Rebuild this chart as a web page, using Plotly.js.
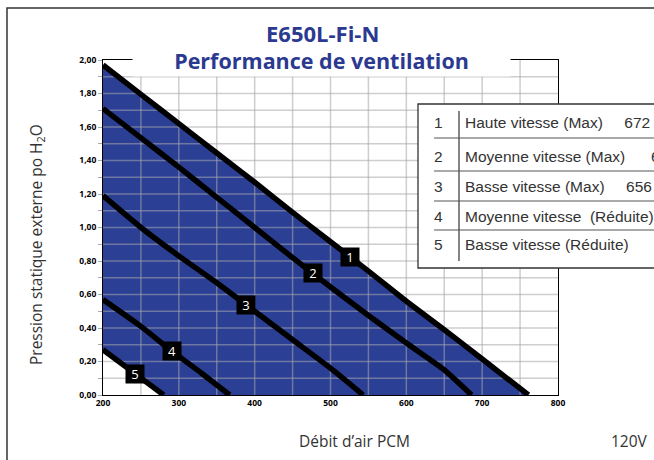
<!DOCTYPE html>
<html><head><meta charset="utf-8">
<script src="https://cdn.plot.ly/plotly-3.0.1.min.js"></script>
<style>html,body{margin:0;padding:0;background:#fff;} #chart{width:654px;height:460px;}</style>
</head><body><div id="chart"></div>
<script>
// Débit d'air (PCM) vs pression statique (po H2O)
const curve1X = [200, 250, 300, 350, 400, 450, 500, 550, 600, 650, 700, 761];
const curve1Y = [1.97, 1.795, 1.62, 1.445, 1.27, 1.09, 0.915, 0.74, 0.56, 0.39, 0.215, 0];
const curve2X = [200, 250, 300, 350, 400, 450, 500, 550, 600, 650, 686];
const curve2Y = [1.71, 1.535, 1.36, 1.18, 1.0, 0.82, 0.645, 0.475, 0.31, 0.15, 0];
const curve3X = [200, 250, 300, 350, 400, 450, 500, 543];
const curve3Y = [1.19, 1.00, 0.83, 0.67, 0.50, 0.33, 0.16, 0];
const curve4X = [200, 250, 290, 330, 367];
const curve4Y = [0.57, 0.41, 0.265, 0.13, 0];
const curve5X = [200, 240, 280];
const curve5Y = [0.27, 0.135, 0];
const curveLabels = ['1', '2', '3', '4', '5'];
const labelX = [526, 477, 389, 291, 242];
const legendNumbers = ['1', '2', '3', '4', '5'];
const NB = '\u00a0';
const legendTexts = [
  'Haute vitesse (Max)' + NB.repeat(5) + '672 PCM',
  'Moyenne vitesse (Max)' + NB.repeat(6) + '664 PCM',
  'Basse vitesse (Max)' + NB.repeat(5) + '656 PCM',
  'Moyenne vitesse' + NB.repeat(2) + '(Réduite)',
  'Basse vitesse (Réduite)'
];
const titleLine1 = 'E650L-Fi-N';
const titleLine2 = 'Performance de ventilation';
const xTitle = 'Débit d\u2019air PCM';
const yTitle = 'Pression statique externe po H<sub>2</sub>O';
const voltage = '120V';
const xRange = [200, 800];
const yRange = [0, 2];
const xGridStep = 50;
const yGridStep = 0.1;

const curvesX = [curve1X, curve2X, curve3X, curve4X, curve5X];
const curvesY = [curve1Y, curve2Y, curve3Y, curve4Y, curve5Y];

function interp(xs, ys, x) {
  for (let i = 0; i < xs.length - 1; i++) {
    if (x >= xs[i] && x <= xs[i + 1]) {
      const t = (x - xs[i]) / (xs[i + 1] - xs[i]);
      return ys[i] + t * (ys[i + 1] - ys[i]);
    }
  }
  return ys[ys.length - 1];
}

const BLUE = '#2b3f95';
const GRID = 'rgba(165,165,172,0.55)';

const traces = [];
curvesX.forEach((cx, i) => {
  traces.push({
    type: 'scatter', mode: 'lines',
    x: cx, y: curvesY[i], name: curveLabels[i],
    line: {color: '#000', width: 5.5, shape: 'spline', smoothing: 0.5},
    showlegend: false, hoverinfo: 'skip'
  });
});

const shapes = [];
// blue zone between curve 1 and curve 5 (data coords), below traces
const zoneX = curve1X.concat(curve5X.slice().reverse());
const zoneY = curve1Y.concat(curve5Y.slice().reverse());
const zonePath = zoneX.map((x, i) => (i === 0 ? 'M' : 'L') + x + ',' + zoneY[i]).join(' ') + ' Z';
shapes.push({type: 'path', xref: 'x', yref: 'y', path: zonePath, fillcolor: BLUE,
  line: {width: 0}, layer: 'below'});
// gridlines drawn over the zone but below the curves
const nX = Math.round((xRange[1] - xRange[0]) / xGridStep);
for (let k = 1; k < nX; k++) {
  const v = xRange[0] + k * xGridStep;
  shapes.push({type: 'line', xref: 'x', yref: 'y', x0: v, x1: v, y0: yRange[0], y1: yRange[1],
    line: {color: GRID, width: 1.5}, layer: 'below'});
}
const nY = Math.round((yRange[1] - yRange[0]) / yGridStep);
for (let k = 1; k < nY; k++) {
  const v = +(yRange[0] + k * yGridStep).toFixed(2);
  shapes.push({type: 'line', xref: 'x', yref: 'y', x0: xRange[0], x1: xRange[1], y0: v, y1: v,
    line: {color: GRID, width: 1.5}, layer: 'below'});
}
// outer frame
shapes.push({type: 'rect', xref: 'paper', yref: 'paper', x0: -0.211, x1: 1.6, y0: -0.6, y1: 1.155,
  line: {color: '#333', width: 1.5}, fillcolor: 'rgba(0,0,0,0)', layer: 'below'});
// legend box
shapes.push({type: 'rect', xref: 'paper', yref: 'paper', x0: 0.6923, x1: 1.6, y0: 0.3791, y1: 0.8687,
  line: {color: '#333', width: 1.3}, fillcolor: '#ffffff', layer: 'above'});
shapes.push({type: 'line', xref: 'paper', yref: 'paper', x0: 0.7824, x1: 0.7824, y0: 0.40, y1: 0.8478,
  line: {color: '#333', width: 1.2}, layer: 'above'});
[0.7672, 0.6687, 0.5791, 0.4925].forEach(yy => {
  shapes.push({type: 'line', xref: 'paper', yref: 'paper', x0: 0.7275, x1: 1.6, y0: yy, y1: yy,
    line: {color: '#555', width: 1.2}, layer: 'above'});
});

const annotations = [];
// title line 2 on white box (interrupts top frame)
annotations.push({
  xref: 'paper', yref: 'paper', x: 0.48, y: 0.997, xanchor: 'center', yanchor: 'middle',
  text: titleLine2, showarrow: false, bgcolor: '#ffffff', width: 377, height: 30, borderpad: 0,
  valign: 'top',
  font: {family: 'Open Sans', size: 21.5, color: '#2b3990', weight: 700}
});
annotations.push({
  xref: 'paper', yref: 'paper', x: 0.4835, y: 1.0806, xanchor: 'center', yanchor: 'middle',
  text: titleLine1, showarrow: false,
  font: {family: 'Open Sans', size: 22, color: '#2b3990', weight: 700}
});
// axis titles
annotations.push({
  xref: 'paper', yref: 'paper', x: 0.5538, y: -0.137, xanchor: 'center', yanchor: 'middle',
  text: xTitle, showarrow: false, font: {family: 'Open Sans', size: 15.5, color: '#333'}
});
annotations.push({
  xref: 'paper', yref: 'paper', x: -0.145, y: 0.4478, xanchor: 'center', yanchor: 'middle',
  text: yTitle, textangle: -90, showarrow: false, font: {family: 'Open Sans', size: 15.5, color: '#333'}
});
annotations.push({
  xref: 'paper', yref: 'paper', x: 1.158, y: -0.137, xanchor: 'center', yanchor: 'middle',
  text: voltage, showarrow: false, font: {family: 'Open Sans', size: 15.5, color: '#333'}
});
// curve labels
curvesX.forEach((cx, i) => {
  annotations.push({
    xref: 'x', yref: 'y', x: labelX[i], y: interp(cx, curvesY[i], labelX[i]),
    xanchor: 'center', yanchor: 'middle', text: curveLabels[i], showarrow: false,
    bgcolor: '#000', width: 17, height: 17, borderpad: 0.5,
    font: {family: 'Open Sans', size: 13, color: '#fff'}
  });
});
// legend table text
const rowY = [0.8149, 0.7134, 0.6209, 0.5343, 0.4478];
legendNumbers.forEach((n, i) => {
  annotations.push({
    xref: 'paper', yref: 'paper', x: 0.7363, y: rowY[i], xanchor: 'center', yanchor: 'middle',
    text: n, showarrow: false, font: {family: 'Liberation Sans', size: 15.5, color: '#333'}
  });
  annotations.push({
    xref: 'paper', yref: 'paper', x: 0.7912, y: rowY[i], xanchor: 'left', yanchor: 'middle',
    text: legendTexts[i], showarrow: false, font: {family: 'Liberation Sans', size: 15.5, color: '#333'}
  });
});

const tickFont = {family: 'Open Sans', size: 8.5, color: '#000', weight: 700};
const layout = {
  width: 654, height: 460,
  margin: {l: 103, r: 96, t: 60, b: 65, pad: 0},
  paper_bgcolor: '#ffffff', plot_bgcolor: 'rgba(0,0,0,0)',
  separators: ', ',
  showlegend: false,
  xaxis: {
    range: xRange, dtick: 100, tick0: 200,
    showgrid: false, zeroline: false,
    showline: true, linecolor: '#000', linewidth: 1, mirror: true,
    ticks: '', tickfont: tickFont
  },
  yaxis: {
    range: yRange, dtick: 0.2, tick0: 0, tickformat: '.2f',
    showgrid: false, zeroline: false,
    showline: true, linecolor: '#000', linewidth: 1, mirror: true,
    ticks: 'outside', ticklen: 4, tickcolor: '#aaa', tickwidth: 1, tickfont: tickFont,
    minor: {dtick: 0.1, showgrid: false, ticks: 'outside', ticklen: 4, tickcolor: '#aaa'}
  },
  annotations: annotations,
  shapes: shapes
};

Plotly.newPlot('chart', traces, layout, {staticPlot: true, displayModeBar: false});
</script>
</body></html>
